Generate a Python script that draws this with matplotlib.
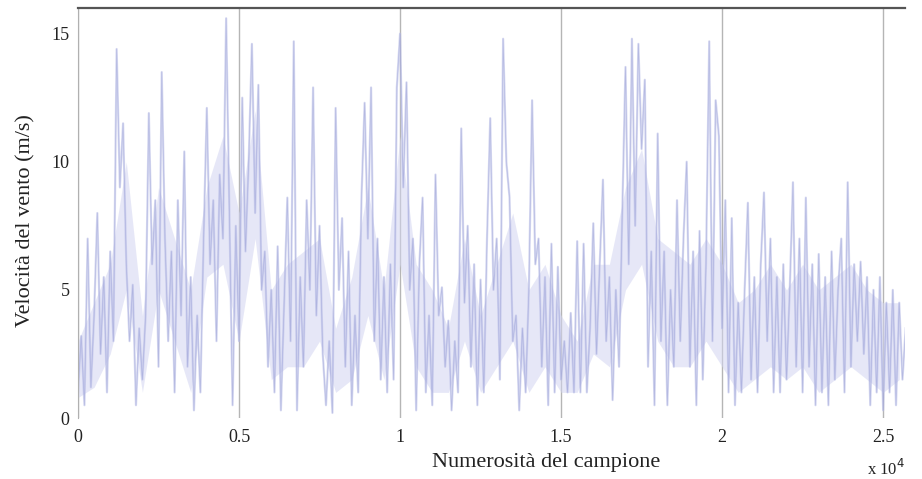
import numpy as np
import matplotlib
matplotlib.use("Agg")
import matplotlib.pyplot as plt
from matplotlib.ticker import FuncFormatter

# wind speed (m/s), one reading every SAMPLE_STEP samples
SAMPLE_STEP = 100
speed = [
    1.0, 3.2, 0.5, 7.0, 1.2, 4.0, 8.0, 2.5, 5.5, 1.0,
    6.5, 3.0, 14.4, 9.0, 11.5, 6.0, 3.0, 5.2, 0.5, 3.5,
    1.5, 4.0, 11.9, 6.0, 8.5, 2.0, 13.5, 7.0, 3.0, 6.5,
    1.0, 8.5, 4.0, 10.4, 2.0, 5.5, 0.3, 4.0, 1.0, 7.0,
    12.1, 6.0, 8.5, 3.0, 9.5, 7.0, 15.6, 8.0, 0.5, 7.5,
    3.0, 12.5, 6.5, 10.0, 14.6, 8.0, 13.0, 5.0, 6.5, 2.0,
    5.0, 1.0, 6.7, 0.3, 4.5, 8.6, 3.0, 14.7, 0.3, 5.5,
    2.0, 8.5, 5.0, 12.9, 4.0, 7.5, 2.5, 0.5, 3.0, 0.2,
    12.1, 5.0, 7.8, 2.0, 6.5, 0.5, 4.0, 1.0, 8.5, 12.3,
    7.0, 12.9, 3.0, 7.0, 1.5, 5.5, 1.0, 6.0, 1.5, 12.9,
    15.0, 9.0, 13.1, 5.0, 7.0, 0.3, 6.0, 8.6, 1.0, 4.0,
    0.5, 9.5, 4.0, 5.1, 2.0, 3.8, 0.3, 3.0, 1.0, 11.3,
    4.5, 7.5, 2.0, 6.0, 0.5, 5.4, 1.0, 7.0, 11.7, 5.0,
    7.0, 1.5, 14.8, 10.0, 8.6, 3.0, 4.0, 0.3, 3.5, 1.0,
    5.0, 12.4, 6.0, 7.0, 2.0, 5.5, 0.5, 6.8, 1.0, 5.9,
    1.5, 3.0, 1.0, 4.1, 1.0, 6.9, 1.0, 6.8, 1.0, 3.5,
    7.6, 2.5, 6.0, 9.3, 3.0, 5.5, 0.7, 5.0, 2.0, 8.0,
    13.7, 6.0, 14.8, 7.5, 14.6, 10.5, 13.2, 2.0, 6.5, 0.5,
    11.1, 3.0, 6.5, 0.5, 5.0, 2.0, 8.5, 3.0, 7.0, 10.0,
    2.0, 6.5, 0.5, 7.3, 1.5, 6.0, 14.7, 3.0, 12.4, 11.0,
    3.5, 8.5, 1.0, 7.8, 0.5, 4.5, 1.0, 5.0, 8.4, 1.5,
    5.5, 1.0, 6.0, 8.8, 3.0, 7.0, 1.0, 5.5, 1.0, 6.0,
    1.5, 5.0, 9.2, 2.0, 7.0, 1.0, 8.6, 2.0, 6.0, 0.5,
    6.4, 1.0, 5.5, 0.5, 6.5, 1.5, 5.0, 7.0, 1.0, 9.2,
    2.0, 6.0, 3.0, 6.1, 2.5, 5.5, 0.5, 5.0, 1.0, 5.5,
    0.3, 4.5, 1.0, 5.0, 0.5, 4.5, 1.5, 3.5,
]

# dense core of the signal (where the strokes pile up), every BAND_STEP samples
BAND_STEP = 500
band_low = [
    0.8, 1.2, 2.5, 5.0, 1.0, 5.0, 3.0, 1.0, 5.5, 6.0,
    3.0, 7.0, 1.5, 2.0, 2.0, 3.0, 1.0, 1.5, 4.0, 1.5,
    6.0, 2.0, 1.0, 1.0, 3.0, 1.0, 2.0, 3.0, 1.0, 2.0,
    1.0, 1.0, 2.5, 2.0, 5.0, 6.0, 3.0, 2.0, 2.0, 3.0,
    2.0, 1.0, 1.5, 2.0, 1.5, 2.0, 1.0, 1.5, 2.0, 1.5,
    1.0, 1.5,
]
band_high = [
    3.0, 4.5, 6.0, 10.0, 4.0, 9.0, 7.0, 5.0, 9.0, 11.0,
    8.0, 12.0, 5.0, 6.0, 6.5, 7.0, 3.5, 5.5, 9.0, 5.0,
    11.0, 6.0, 5.0, 3.5, 7.0, 4.0, 6.0, 8.0, 5.0, 6.0,
    4.0, 3.0, 6.0, 6.0, 9.0, 10.5, 7.0, 6.5, 6.0, 7.0,
    6.0, 4.5, 5.0, 6.0, 5.0, 6.0, 5.0, 5.5, 6.0, 5.0,
    4.5, 4.5,
]
x_ticks = [0, 5000, 10000, 15000, 20000, 25000]
y_ticks = [0, 5, 10, 15]

samples = np.arange(len(speed)) * SAMPLE_STEP
band_x = np.arange(len(band_low)) * BAND_STEP

plt.rcParams["font.family"] = ["Liberation Serif", "DejaVu Serif"]

fig = plt.figure(figsize=(9.22, 4.79), dpi=100)
ax = fig.add_axes([0.0846, 0.1273, 0.897, 0.856])

ax.fill_between(band_x, band_low, band_high, color="#d3d5f1", alpha=0.55, lw=0)
ax.plot(samples, speed, color="#bcc0e8", lw=1.6, alpha=0.6)
ax.plot(samples, speed, color="#959bd3", lw=0.5, alpha=0.5)

ax.set_xlim(0, 25680)
ax.set_ylim(0, 16)
ax.set_xticks(x_ticks)
ax.set_yticks(y_ticks)
ax.xaxis.set_major_formatter(FuncFormatter(lambda v, _: f"{v / 1e4:g}"))
ax.tick_params(length=0, labelsize=13, colors="#222222")
ax.tick_params(axis="x", pad=8)
ax.tick_params(axis="y", pad=6)

ax.grid(axis="x", color="#b5b5b5", lw=1.0)
ax.set_axisbelow(True)
for side in ("right", "bottom"):
    ax.spines[side].set_visible(False)
ax.spines["left"].set_color("#b0b0b0")
ax.spines["top"].set_color("#555555")
ax.spines["top"].set_linewidth(1.6)

fig.text(0.592, 0.035, "Numerosità del campione", fontsize=16,
         ha="center", va="center", color="#222222")
fig.text(0.028, 0.54, "Velocità del vento (m/s)", fontsize=16, rotation=90,
         ha="center", va="center", color="#222222")
fig.text(0.94, 0.02, r"x 10$^4$", fontsize=12, ha="left", va="center", color="#222222")

fig.savefig("out.png", dpi=100)
